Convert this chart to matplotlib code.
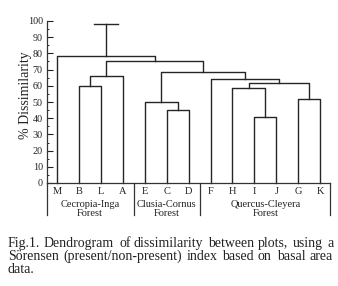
import matplotlib
matplotlib.use("Agg")
import matplotlib.pyplot as plt
import matplotlib.transforms as mtransforms

# leaves in drawing order
leaves = ['M', 'B', 'L', 'A', 'E', 'C', 'D', 'F', 'H', 'I', 'J', 'G', 'K']

# merges: node name = left + right
merge_a = ['B', 'BL', 'C', 'E', 'I', 'H', 'G', 'HIJ', 'F', 'ECD', 'BLA', 'M']
merge_b = ['L', 'A', 'D', 'CD', 'J', 'IJ', 'K', 'GK', 'HIJGK', 'FHIJGK',
           'ECDFHIJGK', 'BLAECDFHIJGK']
merge_height = [60, 66, 45, 50, 41, 58.5, 52, 62, 64, 68.5, 75.5, 78.5]
root_height = 98

groups = ['Cecropia-Inga\nForest', 'Clusia-Cornus\nForest', 'Quercus-Cleyera\nForest']
group_first = [0, 4, 7]
group_last = [3, 6, 12]

caption = ["Fig.1. Dendrogram of dissimilarity between plots, using a",
           "S\u00f6rensen (present/non-present) index based on basal area",
           "data."]

plt.rcParams['font.family'] = ['Liberation Serif', 'DejaVu Serif']
W, H = 338, 286
fig = plt.figure(figsize=(W / 100, H / 100), dpi=100)
ax = fig.add_axes([47 / W, (H - 183) / H, 283 / W, 162 / H])

lc = '#262626'
lw = 1.0
xpos = {name: float(i) for i, name in enumerate(leaves)}
ypos = {name: 0.0 for name in leaves}
for a, b, h in zip(merge_a, merge_b, merge_height):
    ax.plot([xpos[a], xpos[a], xpos[b], xpos[b]], [ypos[a], h, h, ypos[b]],
            color=lc, lw=lw, clip_on=False)
    xpos[a + b] = (xpos[a] + xpos[b]) / 2
    ypos[a + b] = h

root = merge_a[-1] + merge_b[-1]
ax.plot([xpos[root], xpos[root]], [ypos[root], root_height], color=lc, lw=lw, clip_on=False)
ax.plot([xpos[root] - 0.55, xpos[root] + 0.55], [root_height, root_height],
        color=lc, lw=lw, clip_on=False)

ax.set_xlim(-0.46, 12.45)
ax.set_ylim(0, 100)
ax.set_yticks(range(0, 101, 10))
ax.set_yticks(range(5, 100, 10), minor=True)
ax.tick_params(axis='y', which='major', direction='in', length=4, width=0.8,
               labelsize=7.3, pad=3, colors='#222222')
ax.tick_params(axis='y', which='minor', direction='in', length=1.5, width=0.6)
ax.set_xticks(range(len(leaves)))
ax.set_xticklabels(leaves)
ax.tick_params(axis='x', length=0, labelsize=7.5, pad=3, colors='#222222')
for s in ['top', 'right']:
    ax.spines[s].set_visible(False)
for s in ['left', 'bottom']:
    ax.spines[s].set_linewidth(0.9)
    ax.spines[s].set_color('#333333')

trans = mtransforms.blended_transform_factory(ax.transData, ax.transAxes)
seps = [(group_last[i] + group_first[i + 1]) / 2 for i in range(len(groups) - 1)]
for x in seps:
    ax.plot([x, x], [0, -0.198], transform=trans, color='#333333', lw=0.9, clip_on=False)
for x in [0, 1]:
    ax.plot([x, x], [0, -0.198], transform=ax.transAxes, color='#333333', lw=0.9, clip_on=False)
for g, f, l in zip(groups, group_first, group_last):
    ax.text((f + l) / 2, -0.102, g, transform=trans, ha='center', va='top',
            fontsize=7.5, linespacing=1.1, color='#222222')

fig.text(26 / W, (H - 95) / H, '% Dissimilarity', rotation=90, ha='center',
         va='center', fontsize=10, color='#222222')

# justified caption, one text per word on a shared baseline
fig.canvas.draw()
renderer = fig.canvas.get_renderer()
left, right = 8, 333
baselines = [247, 260, 273]
for k, line in enumerate(caption):
    words = line.split(' ')
    texts = [fig.text(0, 0, w, fontsize=10, va='baseline', color='#222222') for w in words]
    widths = [t.get_window_extent(renderer).width for t in texts]
    if k < len(caption) - 1 and len(words) > 1:
        gap = (right - left - sum(widths)) / (len(words) - 1)
    else:
        gap = 3.2
    x = left
    for t, w in zip(texts, widths):
        t.set_position((round(x) / W, (H - baselines[k]) / H))
        x += w + gap

fig.savefig('out.png', dpi=100)
